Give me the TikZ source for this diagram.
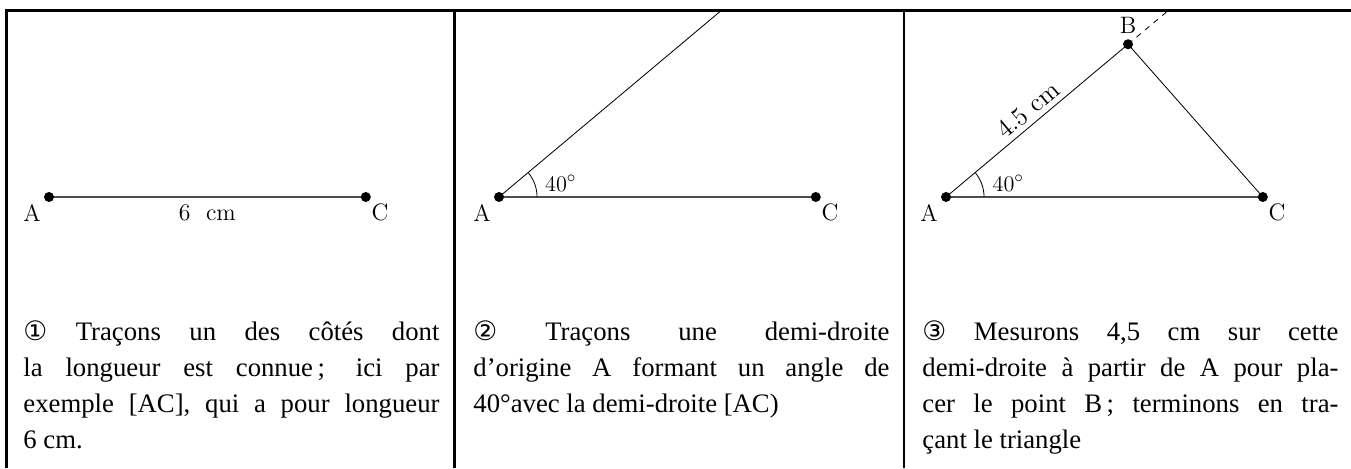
\documentclass[tikz,border=0pt]{standalone}
\usepackage{fontspec}
\usepackage{tikz}
\newfontfamily\captionfnt{Liberation Serif}
\newfontfamily\circfnt{DejaVu Sans}
\usetikzlibrary{calc,positioning}
\tikzstyle{seite} = [draw, line width=0.7pt, black!70]

\begin{document}
\begin{tikzpicture}[pt/.style={circle, fill=black, inner sep=0pt, minimum size=5.4pt},
				rahmen/.style={line width=1.6pt},
				lbl/.style={font=\fontsize{12.8}{15}\selectfont, inner sep=0pt},
				txt/.style={anchor=base west, text width=7.88cm, align=justify, inner sep=0pt,
					font=\captionfnt\fontsize{14.4}{19.3}\selectfont},
				x=1cm, y=1cm, line width=0.45pt]
				\useasboundingbox (0,0) rectangle (25.587,8.864);
				%Rahmen
				\draw[rahmen] (0.114,0) -- (0.114,8.674) -- (25.587,8.674);
				\draw[rahmen] (8.608,0) -- (8.608,8.674);
				\draw[rahmen] (17.121,0) -- (17.121,8.674);
				%Schritt 1
				\coordinate (A1) at (0.928,5.133);
				\coordinate (C1) at ($(A1)+(6,0)$);
				\draw[seite] (A1) -- (C1);
				\node[pt] (pA1) at (A1) {};
				\node[pt] (pC1) at (C1) {};
				\node[lbl] (lA1) at ($(A1)+(-0.32,-0.30)$) {A};
				\node[lbl] (lC1) at ($(C1)+(0.27,-0.30)$) {C};
				\node[lbl] (lAC1) at ($(A1)!0.5!(C1)+(0,-0.30)$) {6~~cm};
				%Schritt 2
				\coordinate (A2) at (9.451,5.133);
				\coordinate (C2) at ($(A2)+(6,0)$);
				\coordinate (R2) at ($(A2)+(40:5.51)$);
				\draw[seite] (A2) -- (C2);
				\draw (A2) -- (R2);
				\draw ($(A2)+(0.72,0)$) arc[start angle=0,end angle=40,radius=0.72];
				\node[pt] (pA2) at (A2) {};
				\node[pt] (pC2) at (C2) {};
				\node[lbl] (lA2) at ($(A2)+(-0.32,-0.30)$) {A};
				\node[lbl] (lC2) at ($(C2)+(0.27,-0.30)$) {C};
				\node[lbl] (w2) at ($(A2)+(1.17,0.26)$) {$40^\circ$};
				%Schritt 3
				\coordinate (A3) at (17.917,5.133);
				\coordinate (C3) at ($(A3)+(6,0)$);
				\coordinate (B3) at ($(A3)+(40:4.5)$);
				\coordinate (R3) at ($(A3)+(40:5.51)$);
				\draw[seite] (A3) -- (C3);
				\draw (A3) -- (B3) -- (C3);
				\draw[dashed] (B3) -- (R3);
				\draw ($(A3)+(0.72,0)$) arc[start angle=0,end angle=40,radius=0.72];
				\node[pt] (pA3) at (A3) {};
				\node[pt] (pB3) at (B3) {};
				\node[pt] (pC3) at (C3) {};
				\node[lbl] (lA3) at ($(A3)+(-0.32,-0.30)$) {A};
				\node[lbl] (lB3) at ($(B3)+(0,0.36)$) {B};
				\node[lbl] (lC3) at ($(C3)+(0.27,-0.30)$) {C};
				\node[lbl] (w3) at ($(A3)+(1.18,0.26)$) {$40^\circ$};
				\node[lbl, rotate=40, font=\fontsize{14}{16}\selectfont] (lAB3) at ($(A3)!0.5!(B3)+(130:0.27)$) {4.5 cm};
				%Texte
				\node[txt] (t1) at (0.436,2.411) {{\circfnt ①} Traçons un des côtés dont\linebreak la longueur est connue\,; ici par\linebreak exemple [AC], qui a pour longueur\linebreak 6 cm.};
				\node[txt] (t2) at (8.958,2.411) {{\circfnt ②} Traçons une demi-droite\linebreak d’origine A formant un angle de\linebreak 40°avec la demi-droite [AC)};
				\node[txt] (t3) at (17.462,2.411) {{\circfnt ③} Mesurons 4,5 cm sur cette\linebreak demi-droite à partir de A pour pla-\linebreak cer le point B\,; terminons en tra-\linebreak çant le triangle};
			\end{tikzpicture}
\end{document}
